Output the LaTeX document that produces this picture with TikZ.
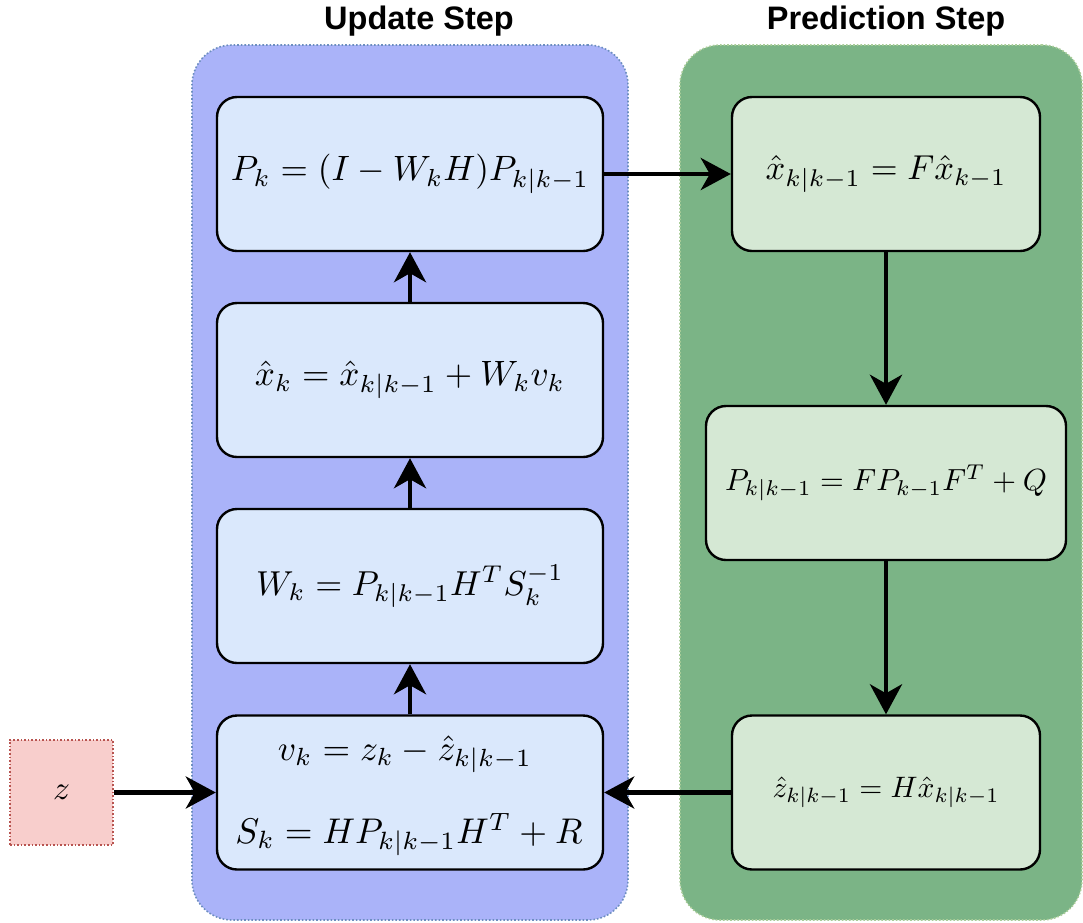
\documentclass[tikz,border=0pt]{standalone}
\usepackage{fontspec}
\newfontfamily\titlefont{Liberation Sans}
\usepackage{graphicx}
\usetikzlibrary{arrows.meta}
\definecolor{updbg}{HTML}{AAB3F9}
\definecolor{updline}{HTML}{6C8EBF}
\definecolor{updbox}{HTML}{DAE8FC}
\definecolor{prdbg}{HTML}{7BB486}
\definecolor{prdline}{HTML}{A9CC98}
\definecolor{prdbox}{HTML}{D5E8D4}
\definecolor{zfill}{HTML}{F8CECC}
\definecolor{zline}{HTML}{B85450}
\newcommand{\fw}[2]{\resizebox{#1pt}{!}{$#2$}}
\begin{document}
\begin{tikzpicture}[x=1pt,y=-1pt,
  container/.style={draw, dotted, line width=1.6pt, rounded corners=40pt, inner sep=0pt},
  stepbox/.style={draw=black, line width=2.4pt, rounded corners=20pt, inner sep=0pt},
  ubox/.style={stepbox, fill=updbox, minimum width=386pt, minimum height=154pt},
  gbox/.style={stepbox, fill=prdbox, minimum height=154pt},
  flow/.style={line width=4.5pt, -{Stealth[length=30pt,width=32pt,inset=9pt]}},
  title/.style={font=\titlefont\bfseries\fontsize{32.5}{38}\selectfont}
]
\useasboundingbox (0,0) rectangle (1083,922);
% containers
\node[container, draw=updline, fill=updbg, minimum width=436pt, minimum height=875pt] (upd) at (410,482.5) {};
\node[container, draw=prdline, fill=prdbg, minimum width=402pt, minimum height=875pt] (prd) at (881,482.5) {};
\node[title] (updt) at (419,21) {Update Step};
\node[title] (prdt) at (886,21) {Prediction Step};
% update boxes
\node[ubox] (b1) at (410,174) {\fw{358}{P_k = (I - W_k H)P_{k|k-1}}};
\node[ubox] (b2) at (410,380) {\fw{310}{\hat{x}_k = \hat{x}_{k|k-1} + W_k v_k}};
\node[ubox] (b3) at (410,586) {\fw{308}{W_k = P_{k|k-1} H^T S_k^{-1}}};
\node[ubox] (b4) at (410,792.5) {};
\node[anchor=base, inner sep=0pt] (b4a) at (405,760) {\fw{254}{v_k = z_k - \hat{z}_{k|k-1}}};
\node[anchor=base, inner sep=0pt] (b4b) at (409,843) {\fw{347}{S_k = H P_{k|k-1} H^T + R}};
% prediction boxes
\node[gbox, minimum width=308pt] (g1) at (886,174) {\fw{241}{\hat{x}_{k|k-1} = F \hat{x}_{k-1}}};
\node[gbox, minimum width=360pt] (g2) at (886,483) {\fw{322}{P_{k|k-1} = F P_{k-1} F^T + Q}};
\node[gbox, minimum width=308pt] (g3) at (886,792.5) {\fw{227}{\hat{z}_{k|k-1} = H\hat{x}_{k|k-1}}};
% z
\node[draw=zline, fill=zfill, dotted, line width=1.6pt, minimum width=103pt, minimum height=105pt, inner sep=0pt] (z) at (61.5,792.5) {\fw{17}{z}};
% arrows
\draw[flow] (b1.east) -- (g1.west);
\draw[flow] (g1.south) -- (g2.north);
\draw[flow] (g2.south) -- (g3.north);
\draw[flow] (g3.west) -- (b4.east);
\draw[flow] (z.east) -- (b4.west);
\draw[flow] (b4.north) -- (b3.south);
\draw[flow] (b3.north) -- (b2.south);
\draw[flow] (b2.north) -- (b1.south);
\end{tikzpicture}
\end{document}
